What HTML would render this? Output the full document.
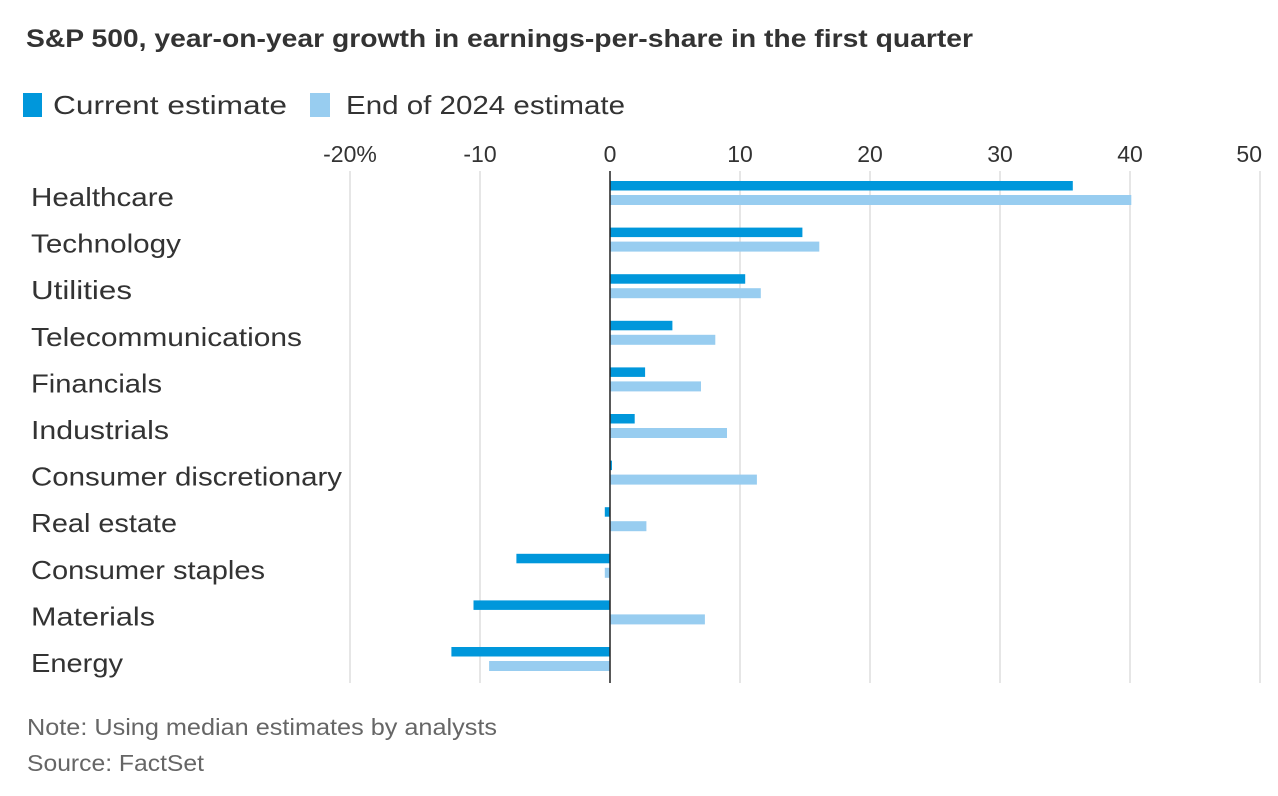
<!DOCTYPE html>
<html><head><meta charset="utf-8"><style>
body{margin:0;background:#fff;}
svg{display:block;font-family:"Liberation Sans",sans-serif;}
</style></head><body>
<svg id="chart" width="1278" height="796">
<text x="26" y="47" font-size="25" font-weight="bold" fill="#333" textLength="947" lengthAdjust="spacingAndGlyphs">S&amp;P 500, year-on-year growth in earnings-per-share in the first quarter</text>
<g>
<rect x="23" y="93" width="19" height="24" fill="#0097db"/>
<text x="53" y="114" font-size="26" fill="#333" textLength="234" lengthAdjust="spacingAndGlyphs">Current estimate</text>
<rect x="310" y="93" width="20" height="24" fill="#98cdf0"/>
<text x="346" y="114" font-size="26" fill="#333" textLength="279" lengthAdjust="spacingAndGlyphs">End of 2024 estimate</text>
</g>
<g id="grid"></g><g id="bars"></g><g id="labels"></g>
<text x="27" y="735" font-size="23" fill="#666" textLength="470" lengthAdjust="spacingAndGlyphs">Note: Using median estimates by analysts</text>
<text x="27" y="771" font-size="23" fill="#666" textLength="177" lengthAdjust="spacingAndGlyphs">Source: FactSet</text>
</svg>
<script>
const categories=["Healthcare","Technology","Utilities","Telecommunications","Financials","Industrials","Consumer discretionary","Real estate","Consumer staples","Materials","Energy"];
const currentEstimate=[35.6,14.8,10.4,4.8,2.7,1.9,0.15,-0.4,-7.2,-10.5,-12.2];
const end2024Estimate=[40.1,16.1,11.6,8.1,7.0,9.0,11.3,2.8,-0.4,7.3,-9.3];
const tickValues=[-20,-10,0,10,20,30,40,50];
const tickLabels=["-20%","-10","0","10","20","30","40","50"];
const labelWidths=[143,150,101,271,131,138,311,146,234,124,92];
const NS="http://www.w3.org/2000/svg";
const x=v=>610+v*13;
const rowY=i=>181+i*46.6;
function mk(tag,attrs,parent){const e=document.createElementNS(NS,tag);for(const k in attrs)e.setAttribute(k,attrs[k]);parent.appendChild(e);return e;}
const grid=document.getElementById('grid'),bars=document.getElementById('bars'),labels=document.getElementById('labels');
tickValues.forEach((v,i)=>{
 if(v!==0){const l=mk('line',{x1:x(v),x2:x(v),y1:171,y2:683,stroke:'#ddd','stroke-width':1.5},grid);
 
 }
 const last=i===tickValues.length-1;
 const t=mk('text',{x:last?x(v)+2:x(v),y:162,'font-size':23,fill:'#333','text-anchor':last?'end':'middle'},grid);
 t.textContent=tickLabels[i];
 
 
});
categories.forEach((c,i)=>{
 const y=rowY(i);
 const a=currentEstimate[i],b=end2024Estimate[i];
 const r1=mk('rect',{x:Math.min(x(0),x(a)),y:y,width:Math.abs(x(a)-x(0)),height:9.5,fill:'#0097db'},bars);
 
 
 const r2=mk('rect',{x:Math.min(x(0),x(b)),y:y+14,width:Math.abs(x(b)-x(0)),height:10,fill:'#98cdf0'},bars);
 
 
 const t=mk('text',{x:31,y:y+25,'font-size':26,fill:'#333',textLength:labelWidths[i],lengthAdjust:'spacingAndGlyphs'},labels);
 t.textContent=c;
 
 
});
const z=mk('line',{x1:x(0),x2:x(0),y1:171,y2:683,stroke:'#222','stroke-width':1.5},bars);


</script>
</body></html>
